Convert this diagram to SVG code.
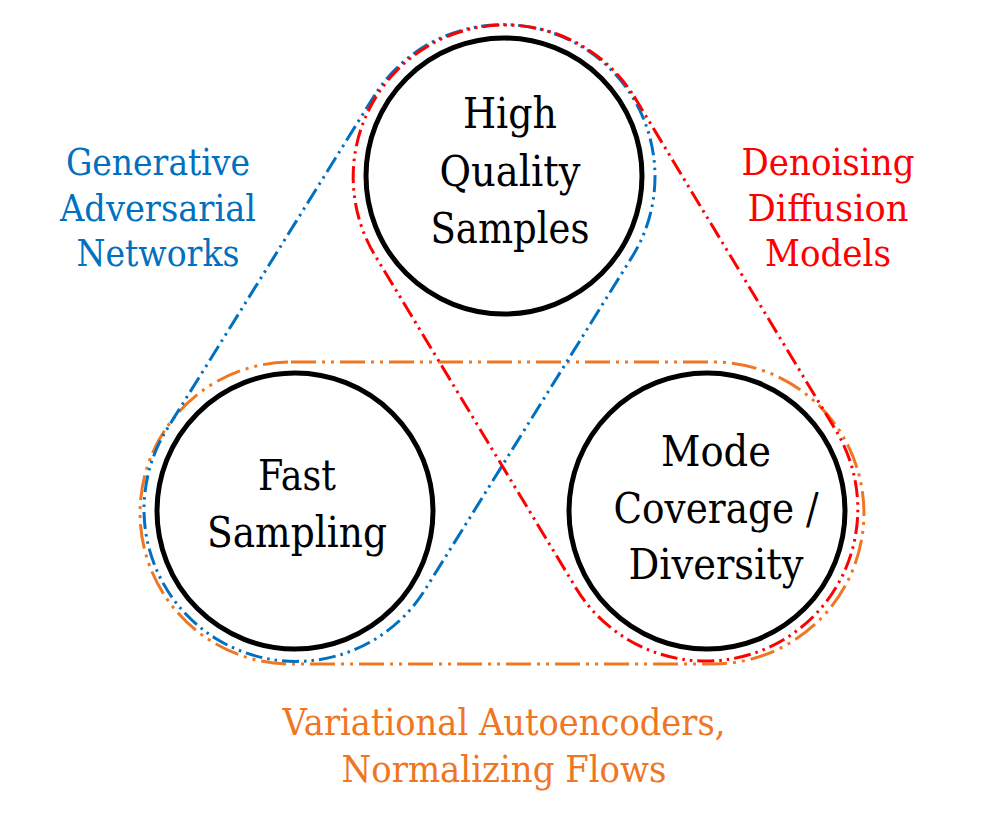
<svg xmlns="http://www.w3.org/2000/svg" width="990" height="828" viewBox="0 0 990 828">
  <style>
    .node { fill: none; stroke: #000; stroke-width: 5; }
    .ntext { font-family: 'DejaVu Serif', 'Liberation Serif', serif; font-size: 43px; fill: #000; text-anchor: middle; }
    .label { font-family: 'DejaVu Serif', 'Liberation Serif', serif; font-size: 38px; text-anchor: middle; }
    .loop { fill: none; stroke-width: 3; }
    .gan { stroke: #0070C0; stroke-dasharray: 17 5 2.5 5 2.5 5; }
    .ddm { stroke: #FF0000; stroke-dasharray: 17 5 2.5 5 2.5 5; }
    .vae { stroke: #EF7622; stroke-dasharray: 25 6 3 6 3 6; }
  </style>
  <rect width="990" height="828" fill="#fff"/>

  <!-- group outlines (stadium shapes enclosing pairs of properties) -->
  <g id="connectors">
    <path class="loop vae" d="M291,362 H713 A151,151 0 0 1 713,664 H291 A151,151 0 0 1 291,362 Z"/>
    <path class="loop gan" d="M374.95,94.71 L165.95,430.71 A152,152 0 0 0 424.05,591.29 L633.05,255.29 A152,152 0 0 0 374.95,94.71 Z"/>
    <path class="loop ddm" d="M634.08,96.40 L837.08,432.40 A152,152 0 0 1 576.92,589.60 L373.92,253.60 A152,152 0 0 1 634.08,96.40 Z"/>
  </g>

  <g id="node-quality">
    <circle class="node" cx="504" cy="176" r="138"/>
    <text class="ntext" x="510" y="128" textLength="94" lengthAdjust="spacingAndGlyphs">High</text>
    <text class="ntext" x="510" y="186" textLength="141" lengthAdjust="spacingAndGlyphs">Quality</text>
    <text class="ntext" x="510" y="243" textLength="159" lengthAdjust="spacingAndGlyphs">Samples</text>
  </g>

  <g id="node-fast">
    <circle class="node" cx="295" cy="511" r="138"/>
    <text class="ntext" x="297" y="490" textLength="78" lengthAdjust="spacingAndGlyphs">Fast</text>
    <text class="ntext" x="297" y="547" textLength="180" lengthAdjust="spacingAndGlyphs">Sampling</text>
  </g>

  <g id="node-diversity">
    <circle class="node" cx="707" cy="511" r="138"/>
    <text class="ntext" x="716" y="466" textLength="110" lengthAdjust="spacingAndGlyphs">Mode</text>
    <text class="ntext" x="716" y="523" textLength="205" lengthAdjust="spacingAndGlyphs">Coverage /</text>
    <text class="ntext" x="716" y="579" textLength="175" lengthAdjust="spacingAndGlyphs">Diversity</text>
  </g>

  <g id="label-gan" fill="#0070C0">
    <text class="label" x="158" y="175" textLength="184" lengthAdjust="spacingAndGlyphs">Generative</text>
    <text class="label" x="158" y="221" textLength="196" lengthAdjust="spacingAndGlyphs">Adversarial</text>
    <text class="label" x="158" y="266" textLength="163" lengthAdjust="spacingAndGlyphs">Networks</text>
  </g>

  <g id="label-ddm" fill="#FF0000">
    <text class="label" x="828" y="175" textLength="173" lengthAdjust="spacingAndGlyphs">Denoising</text>
    <text class="label" x="828" y="221" textLength="161" lengthAdjust="spacingAndGlyphs">Diffusion</text>
    <text class="label" x="828" y="266" textLength="126" lengthAdjust="spacingAndGlyphs">Models</text>
  </g>

  <g id="label-vae" fill="#EF7622">
    <text class="label" x="504" y="735" textLength="443" lengthAdjust="spacingAndGlyphs">Variational Autoencoders,</text>
    <text class="label" x="504" y="782" textLength="325" lengthAdjust="spacingAndGlyphs">Normalizing Flows</text>
  </g>
</svg>
